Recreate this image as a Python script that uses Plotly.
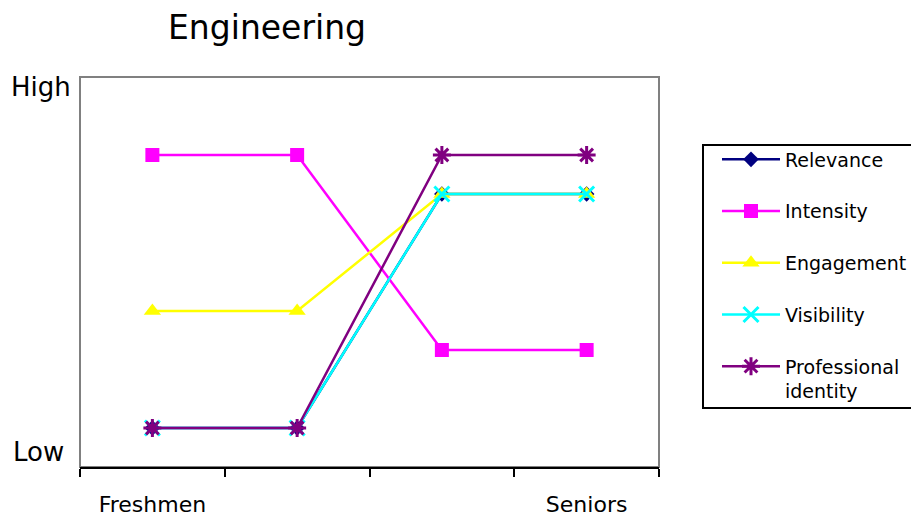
import plotly.graph_objects as go

# Chart data
categories = ["Freshmen", "Sophomores", "Juniors", "Seniors"]
category_labels = ["Freshmen", "", "", "Seniors"]
series_names = ["Relevance", "Intensity", "Engagement", "Visibility", "Professional<br>identity"]
relevance = [1, 1, 7, 7]
intensity = [8, 8, 3, 3]
engagement = [4, 4, 7, 7]
visibility = [1, 1, 7, 7]
professional_identity = [1, 1, 8, 8]
level_labels = ["High", "Low"]
level_values = [9.74, 0.38]

series_values = [relevance, intensity, engagement, visibility, professional_identity]
colors = ["#000080", "#FF00FF", "#FFFF00", "#00FFFF", "#800080"]
symbols = ["diamond", "square", "triangle-up", "x-thin", "asterisk"]
sizes = [12, 14, 15, 15, 15]

FONT = "DejaVu Sans"
W, H = 911, 519
L, R, T, B = 80, 252, 77, 52
PW, PH = W - L - R, H - T - B


def px_x(x):
    return (x - L) / PW


def px_y(y):
    return (H - B - y) / PH


fig = go.Figure()
for i, (name, vals) in enumerate(zip(series_names, series_values)):
    marker = dict(symbol=symbols[i], size=sizes[i], color=colors[i])
    if symbols[i] in ("x-thin", "asterisk"):
        marker["line"] = dict(color=colors[i], width=3)
    fig.add_trace(go.Scatter(
        x=categories, y=vals, name=name, mode="lines+markers",
        line=dict(color=colors[i], width=2.5),
        marker=marker, legendgroup=f"g{i}",
    ))

# grey frame around the plotting area
fig.add_shape(type="rect", xref="paper", yref="paper", x0=0, x1=1, y0=0, y1=1,
              line=dict(color="#808080", width=2), layer="below")
# black box around the legend
fig.add_shape(type="rect", xref="paper", yref="paper",
              x0=px_x(703), x1=px_x(920), y0=px_y(408), y1=px_y(145),
              line=dict(color="black", width=2), fillcolor="white", layer="below")

for lab, val in zip(level_labels, level_values):
    fig.add_annotation(text=lab, xref="paper", yref="y", x=px_x(41 if lab == "High" else 38),
                       y=val, xanchor="center", yanchor="middle", showarrow=False,
                       font=dict(family=FONT, size=26, color="black"))

fig.update_layout(
    width=W, height=H,
    margin=dict(l=L, r=R, t=T, b=B, autoexpand=False),
    paper_bgcolor="white", plot_bgcolor="white",
    title=dict(text="Engineering", x=px_x(267), xref="paper", xanchor="center",
               y=1 - 27 / H, yref="container", yanchor="middle",
               font=dict(family=FONT, size=33, color="black")),
    showlegend=True,
    legend=dict(x=px_x(717), xanchor="left", y=px_y(140.5), yanchor="top",
                borderwidth=0, bgcolor="rgba(0,0,0,0)",
                font=dict(family=FONT, size=19, color="black"),
                tracegroupgap=24, itemwidth=58, valign="top"),
    xaxis=dict(type="category", range=[-0.5, 3.5], tickson="boundaries",
               tickmode="array", tickvals=categories, ticktext=category_labels,
               showline=True, linecolor="black", linewidth=2,
               ticks="outside", ticklen=8, tickwidth=2, tickcolor="black",
               showgrid=False, zeroline=False, ticklabelstandoff=17, automargin=False,
               tickfont=dict(family=FONT, size=22, color="black")),
    yaxis=dict(range=[0, 10], showticklabels=False, showgrid=False, zeroline=False,
               showline=False, ticks="", automargin=False),
)

fig.write_html("out.html")
